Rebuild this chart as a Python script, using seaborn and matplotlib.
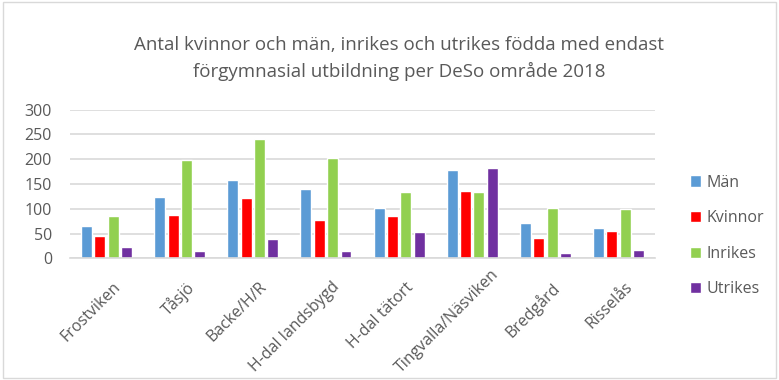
import matplotlib
matplotlib.use("Agg")
import matplotlib.pyplot as plt
import matplotlib.transforms as mtransforms
import seaborn as sns
import pandas as pd

# DeSo areas and counts per group
areas = ["Frostviken", "Tåsjö", "Backe/H/R", "H-dal landsbygd", "H-dal tätort",
         "Tingvalla/Näsviken", "Bredgård", "Risselås"]
man = [65, 124, 158, 139, 101, 179, 71, 61]
kvinnor = [45, 88, 121, 77, 85, 136, 40, 56]
inrikes = [85, 198, 241, 202, 133, 133, 101, 99]
utrikes = [23, 14, 38, 15, 53, 183, 10, 17]
series_names = ["Män", "Kvinnor", "Inrikes", "Utrikes"]
series_colors = ["#5B9BD5", "#FF0000", "#92D050", "#7030A0"]
y_ticks = [0, 50, 100, 150, 200, 250, 300]

rows = []
for name, vals in zip(series_names, [man, kvinnor, inrikes, utrikes]):
    for area, v in zip(areas, vals):
        rows.append({"område": area, "grupp": name, "antal": v})
df = pd.DataFrame(rows)

sns.set_theme(style="white")
plt.rcParams["font.family"] = ["Open Sans", "DejaVu Sans"]
text_color = "#595959"
DPI = 100

fig = plt.figure(figsize=(7.79, 3.80), dpi=DPI)
ax = fig.add_axes([0.0899, 0.3203, 0.751, 0.391])

sns.barplot(data=df, x="område", y="antal", hue="grupp", order=areas,
            hue_order=series_names, palette=series_colors, width=0.73, gap=0.18,
            saturation=1, ax=ax, legend=True, errorbar=None)

ax.set_ylim(0, 300)
ax.set_yticks(y_ticks)
ax.set_xlim(-0.5, len(areas) - 0.5)
ax.yaxis.grid(True, color="#D9D9D9", linewidth=1.2)
ax.set_axisbelow(True)
for side in ["top", "right", "left"]:
    ax.spines[side].set_visible(False)
ax.spines["bottom"].set_color("#D9D9D9")
ax.spines["bottom"].set_linewidth(1.2)
ax.set_xlabel("")
ax.set_ylabel("")
ax.tick_params(axis="both", length=0, colors=text_color)
ax.tick_params(axis="y", pad=13, labelsize=11.5)
ax.tick_params(axis="x", pad=15, labelsize=11.5)

handles, labels = ax.get_legend_handles_labels()
ax.legend(handles, labels, loc="center left", bbox_to_anchor=(1.035, 0.15),
          frameon=False, fontsize=11.5, labelcolor=text_color,
          handlelength=0.7, handleheight=0.7, handletextpad=0.35,
          labelspacing=1.23)

fig.text(0.512, 0.882, "Antal kvinnor och män, inrikes och utrikes födda med endast",
         ha="center", va="center", fontsize=13.5, color=text_color)
fig.text(0.512, 0.813, "förgymnasial utbildning per DeSo område 2018",
         ha="center", va="center", fontsize=13.5, color=text_color)

fig.patches.append(plt.Rectangle((0.004, 0.004), 0.992, 0.992, transform=fig.transFigure,
                                 fill=False, edgecolor="#D9D9D9", linewidth=1))

# rotated category labels, nudged slightly right of each group centre;
# a label that would run past the bottom edge slides up along its own diagonal
base_dx = 6
margin = 4
tick_labels = ax.get_xticklabels()
base_transforms = [lbl.get_transform() for lbl in tick_labels]
for lbl, tr in zip(tick_labels, base_transforms):
    lbl.set_rotation(45)
    lbl.set_ha("right")
    lbl.set_rotation_mode("anchor")
    lbl.set_transform(tr + mtransforms.ScaledTranslation(base_dx / DPI, 0, fig.dpi_scale_trans))

fig.canvas.draw()
renderer = fig.canvas.get_renderer()
for lbl, tr in zip(ax.get_xticklabels(), base_transforms):
    y0 = lbl.get_window_extent(renderer).y0
    d = max(0.0, margin - y0)
    lbl.set_transform(tr + mtransforms.ScaledTranslation((base_dx + d) / DPI, d / DPI,
                                                         fig.dpi_scale_trans))

fig.savefig("out.png", dpi=DPI, facecolor="white")
